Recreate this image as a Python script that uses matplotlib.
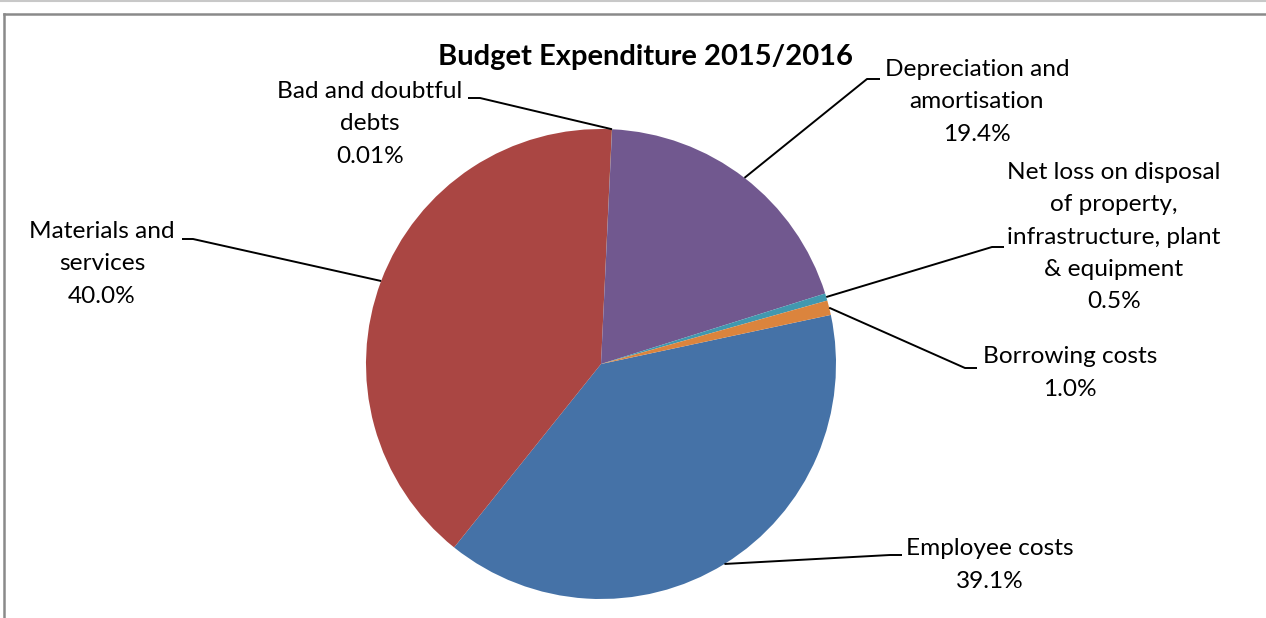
import numpy as np
import matplotlib.pyplot as plt
from matplotlib.lines import Line2D

plt.rcParams['font.family'] = ['Lato', 'DejaVu Sans']

# budget split, in the order the series was entered
categories = ['Employee costs', 'Materials and\nservices', 'Bad and doubtful\ndebts',
              'Depreciation and\namortisation',
              'Net loss on disposal\nof property,\ninfrastructure, plant\n& equipment',
              'Borrowing costs']
shares = [39.1, 40.0, 0.01, 19.4, 0.5, 1.0]
pct_labels = ['39.1%', '40.0%', '0.01%', '19.4%', '0.5%', '1.0%']
colors = ['#4572A7', '#AA4643', '#89A54E', '#71588F', '#4198AF', '#DB843D']

W, H = 1266, 618
fig = plt.figure(figsize=(W / 100, H / 100), dpi=100)
ax = fig.add_axes([0, 0, 1, 1])

cx, cy, r = 601, H - 364, 235
wedges, _ = ax.pie(shares, colors=colors, startangle=12.06, counterclock=False,
                   center=(cx, cy), radius=r, wedgeprops=dict(linewidth=0))
ax.set_xlim(0, W)
ax.set_ylim(0, H)
ax.set_aspect('auto')
ax.axis('off')

# label block centre and leader elbow, in pixels from the top-left
label_pos = [(990, 565), (102, 264), (370, 124), (977, 102), (1114, 237), (1070, 373)]
elbows = [((890, 555), (902, 555)), ((193, 239), (182, 239)), ((480, 98), (468, 98)),
          ((867, 79), (880, 79)), ((992, 247), (1004, 247)), ((965, 368), (977, 368))]

for w, name, pct, (lx, ly), (e1, e2) in zip(wedges, categories, pct_labels, label_pos, elbows):
    mid = np.deg2rad((w.theta1 + w.theta2) / 2)
    px, py = cx + r * np.cos(mid), cy + r * np.sin(mid)
    ax.plot([px, e1[0], e2[0]], [py, H - e1[1], H - e2[1]], color='black', lw=1.4,
            solid_capstyle='butt')
    ax.text(lx, H - ly, name + '\n' + pct, ha='center', va='center', fontsize=17.6,
            linespacing=1.66, color='black')

ax.text(646, H - 57, 'Budget Expenditure 2015/2016', ha='center', va='center',
        fontsize=21, fontweight='bold')

# chart frame edges
fig.add_artist(Line2D([0, 1], [1 - 0.5 / H, 1 - 0.5 / H], color='#c8c8c8', lw=1.5))
fig.add_artist(Line2D([3.5 / W, 1], [1 - 13.5 / H, 1 - 13.5 / H], color='#8a8a8a', lw=1.8))
fig.add_artist(Line2D([4 / W, 4 / W], [0, 1 - 13.5 / H], color='#8a8a8a', lw=1.8))

fig.savefig('out.png', dpi=100)
